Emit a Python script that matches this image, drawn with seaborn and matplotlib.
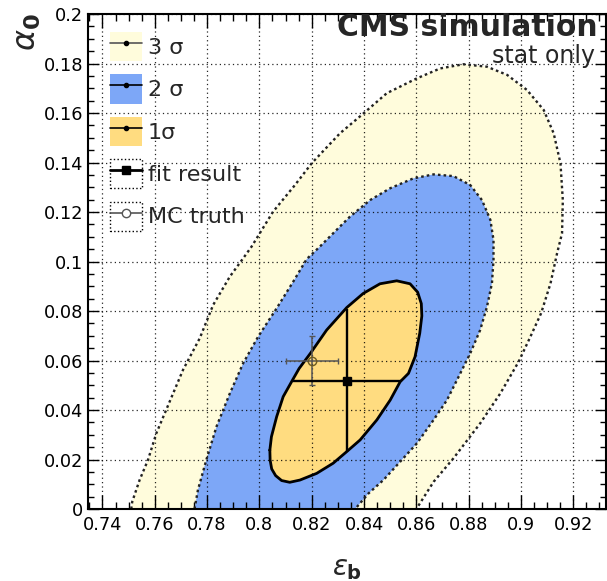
import numpy as np
import matplotlib
matplotlib.use("Agg")
import matplotlib.pyplot as plt
import seaborn as sns
from matplotlib.patches import Patch
from matplotlib.lines import Line2D
from matplotlib.legend_handler import HandlerTuple
from matplotlib.ticker import MultipleLocator

sns.set_style("ticks")
plt.rcParams["font.family"] = ["DejaVu Sans"]
plt.rcParams["mathtext.fontset"] = "dejavusans"

# contour boundaries (eps_b, alpha_0)
sig3_x = [0.751, 0.7514, 0.7542, 0.7574, 0.7606, 0.7657, 0.7708, 0.7772, 0.7823, 0.7887,
          0.7938, 0.7970, 0.8052, 0.8136, 0.8200, 0.8308, 0.8391, 0.8487, 0.8602, 0.8691,
          0.8780, 0.8870, 0.8947, 0.9023, 0.9087, 0.9125, 0.9151, 0.9160, 0.9157, 0.9138,
          0.9113, 0.9077, 0.9036, 0.8991, 0.8921, 0.8844, 0.8742, 0.8666, 0.8600]
sig3_y = [0.0, 0.0030, 0.0117, 0.0198, 0.0306, 0.0434, 0.0562, 0.0690, 0.0824, 0.0939,
          0.1013, 0.1060, 0.1201, 0.1309, 0.1397, 0.1518, 0.1592, 0.1680, 0.1740, 0.1780,
          0.1797, 0.1787, 0.1754, 0.1693, 0.1612, 0.1518, 0.1397, 0.1248, 0.1114, 0.1033,
          0.0912, 0.0791, 0.0696, 0.0595, 0.0467, 0.0346, 0.0205, 0.0110, 0.0]

sig2_x = [0.7752, 0.7765, 0.7797, 0.7836, 0.7887, 0.7938, 0.7995, 0.8066, 0.8129, 0.8181,
          0.8231, 0.8282, 0.8346, 0.8423, 0.8500, 0.8589, 0.8666, 0.8742, 0.8806, 0.8851,
          0.8883, 0.8895, 0.8895, 0.8889, 0.8870, 0.8844, 0.8806, 0.8768, 0.8717, 0.8666,
          0.8602, 0.8538, 0.8474, 0.8417, 0.8366]
sig2_y = [0.0, 0.0077, 0.0198, 0.0333, 0.0467, 0.0589, 0.0696, 0.0811, 0.0918, 0.1010,
          0.1060, 0.1114, 0.1181, 0.1248, 0.1296, 0.1336, 0.1352, 0.1345, 0.1309, 0.1248,
          0.1168, 0.1087, 0.1006, 0.0912, 0.0817, 0.0723, 0.0629, 0.0548, 0.0440, 0.0360,
          0.0265, 0.0191, 0.0117, 0.0063, 0.0]

sig1_x = [0.8040, 0.8046, 0.8066, 0.8091, 0.8125, 0.8152, 0.8195, 0.8257, 0.8334, 0.8397,
          0.8461, 0.8525, 0.8576, 0.8605, 0.8619, 0.8621, 0.8613, 0.8595, 0.8570, 0.8538,
          0.8500, 0.8449, 0.8385, 0.8334, 0.8282, 0.8219, 0.8155, 0.8116, 0.8085, 0.8062,
          0.8047, 0.8041]
sig1_y = [0.0238, 0.0292, 0.0373, 0.0454, 0.0518, 0.0568, 0.0629, 0.0723, 0.0814, 0.0871,
          0.0910, 0.0922, 0.0910, 0.0876, 0.0830, 0.0780, 0.0710, 0.0615, 0.0548, 0.0514,
          0.0440, 0.0360, 0.0279, 0.0232, 0.0185, 0.0144, 0.0117, 0.0108, 0.0115, 0.0135,
          0.0162, 0.0198]

fit_x, fit_y = 0.8336, 0.0518
fit_xerr, fit_yerr = 0.0206, 0.0289
mc_x, mc_y = 0.82, 0.06
mc_xerr, mc_yerr = 0.01, 0.01

x_ticks = [0.74, 0.76, 0.78, 0.80, 0.82, 0.84, 0.86, 0.88, 0.90, 0.92]
x_labels = ["0.74", "0.76", "0.78", "0.8", "0.82", "0.84", "0.86", "0.88", "0.9", "0.92"]
y_ticks = [0.0, 0.02, 0.04, 0.06, 0.08, 0.10, 0.12, 0.14, 0.16, 0.18, 0.20]
y_labels = ["0", "0.02", "0.04", "0.06", "0.08", "0.1", "0.12", "0.14", "0.16", "0.18", "0.2"]

c3, c2, c1 = "#FFFCDC", "#7DA7F7", "#FFDC80"

fig = plt.figure(figsize=(6.07, 5.81), dpi=100)
ax = fig.add_axes([0.1455, 0.1239, 0.8524, 0.852])

# filled regions
ax.fill(sig3_x, sig3_y, color=c3, lw=0, zorder=1)
ax.fill(sig2_x, sig2_y, color=c2, lw=0, zorder=1.1)
ax.fill(sig1_x, sig1_y, color=c1, lw=0, zorder=1.2)

# outlines
dots = (0, (1.1, 1.3))
sns.lineplot(x=sig3_x, y=sig3_y, sort=False, estimator=None, color="#222222",
             lw=1.7, ls=dots, ax=ax, zorder=3)
sns.lineplot(x=sig2_x, y=sig2_y, sort=False, estimator=None, color="#222222",
             lw=1.7, ls=dots, ax=ax, zorder=3)
sns.lineplot(x=sig1_x + sig1_x[:1], y=sig1_y + sig1_y[:1], sort=False, estimator=None,
             color="black", lw=2.0, ax=ax, zorder=3)

# points
ax.errorbar(mc_x, mc_y, xerr=mc_xerr, yerr=mc_yerr, fmt="o", color="#555555",
            mfc="none", mec="#6b5a20", ms=6, lw=1.1, capsize=2.5, zorder=4)
ax.errorbar(fit_x, fit_y, xerr=fit_xerr, yerr=fit_yerr, fmt="s", color="black",
            ms=5.5, lw=1.7, capsize=0, zorder=5)

ax.set_xlim(0.7346, 0.9324)
ax.set_ylim(0.0, 0.2)
ax.set_xticks(x_ticks)
ax.set_xticklabels(x_labels)
ax.set_yticks(y_ticks)
ax.set_yticklabels(y_labels)
ax.xaxis.set_minor_locator(MultipleLocator(0.005))
ax.yaxis.set_minor_locator(MultipleLocator(0.005))

ax.set_axisbelow(False)
ax.grid(True, which="major", ls=(0, (1, 2.5)), color="black", lw=0.9, alpha=0.85)
ax.tick_params(which="both", direction="in", top=True, right=True, width=1.0,
               labelsize=12.8, colors="black")
ax.tick_params(axis="x", which="major", length=10, pad=5)
ax.tick_params(axis="x", which="minor", length=5)
ax.tick_params(axis="y", which="major", length=8, pad=3.5)
ax.tick_params(axis="y", which="minor", length=4.3)
for s in ax.spines.values():
    s.set_linewidth(1.5)
    s.set_color("black")
    s.set_zorder(6)

ax.set_xlabel("")
ax.set_ylabel("")
fig.text(0.046, 0.978, r"$\alpha_{\mathbf{0}}$", rotation=90, ha="center", va="top",
         fontsize=23)
fig.text(0.5725, 0.046, r"$\epsilon_{\mathbf{b}}$", ha="center", va="top", fontsize=20)

ax.text(0.985, 0.9556, "CMS simulation", transform=ax.transAxes, ha="right",
        va="baseline", fontsize=21.5, fontweight="bold", zorder=7)
ax.text(0.979, 0.901, "stat only", transform=ax.transAxes, ha="right",
        va="baseline", fontsize=17, zorder=7)

# legend
h3 = (Patch(fc=c3, ec="none"),
      Line2D([], [], color="#555555", lw=1.2, marker="o", ms=3, mfc="black", mec="black"))
h2 = (Patch(fc=c2, ec="none"),
      Line2D([], [], color="black", lw=1.2, marker="o", ms=3, mfc="black", mec="black"))
h1 = (Patch(fc=c1, ec="none"),
      Line2D([], [], color="black", lw=1.2, marker="o", ms=3, mfc="black", mec="black"))
hfit = (Patch(fc="white", ec="black", ls=":", lw=1.0),
        Line2D([], [], color="black", lw=2.0, marker="s", ms=6))
hmc = (Patch(fc="white", ec="black", ls=":", lw=1.0),
       Line2D([], [], color="#555555", lw=1.2, marker="o", ms=6, mfc="white", mec="#555555"))
leg = ax.legend([h3, h2, h1, hfit, hmc], ["3 σ", "2 σ", "1σ", "fit result", "MC truth"],
                loc="upper left", bbox_to_anchor=(0.042, 0.9636), frameon=False,
                fontsize=16, handlelength=1.45, handleheight=1.65, handletextpad=0.25,
                labelspacing=0.59, borderpad=0, borderaxespad=0,
                handler_map={tuple: HandlerTuple(ndivide=1)})
leg.set_zorder(8)

fig.savefig("out.png", dpi=100)
plt.close(fig)
